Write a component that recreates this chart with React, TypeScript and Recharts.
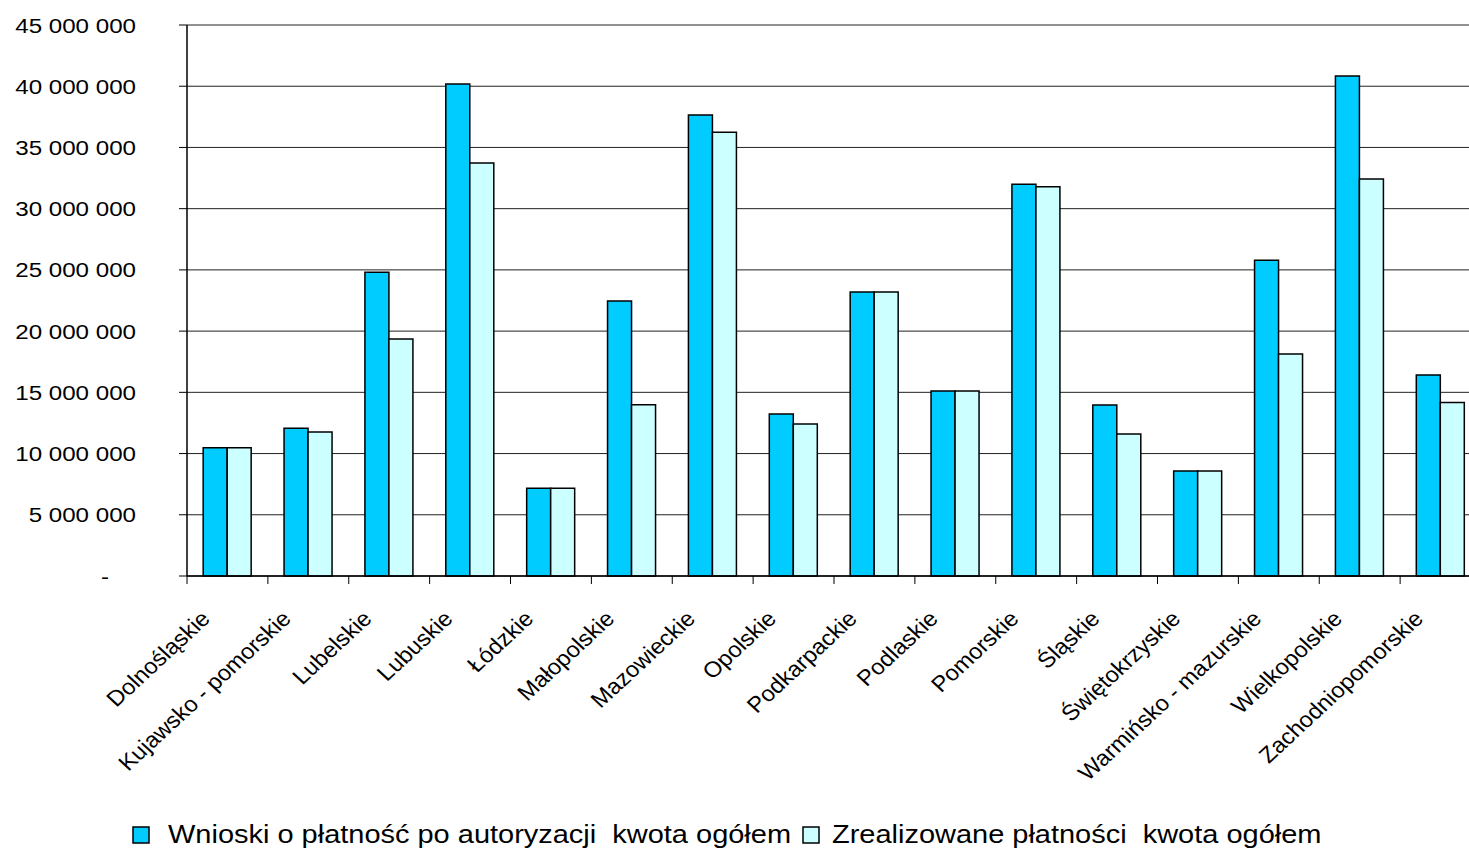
import React from 'react';
import { BarChart, Bar, XAxis, YAxis, CartesianGrid, Legend } from 'recharts';

const regions = [
  'Dolnośląskie',
  'Kujawsko - pomorskie',
  'Lubelskie',
  'Lubuskie',
  'Łódzkie',
  'Małopolskie',
  'Mazowieckie',
  'Opolskie',
  'Podkarpackie',
  'Podlaskie',
  'Pomorskie',
  'Śląskie',
  'Świętokrzyskie',
  'Warmińsko - mazurskie',
  'Wielkopolskie',
  'Zachodniopomorskie',
];

const wnioski = [
  10480000, 12060000, 24800000, 40180000, 7160000, 22460000, 37650000, 13230000,
  23200000, 15110000, 31990000, 13970000, 8580000, 25780000, 40840000, 16420000,
];

const zrealizowane = [
  10480000, 11760000, 19360000, 33730000, 7160000, 13990000, 36240000, 12410000,
  23200000, 15110000, 31800000, 11600000, 8580000, 18130000, 32420000, 14160000,
];

const yTicks = [0, 5000000, 10000000, 15000000, 20000000, 25000000, 30000000, 35000000, 40000000, 45000000];

const seriesNames = [
  'Wnioski o płatność po autoryzacji  kwota ogółem',
  'Zrealizowane płatności  kwota ogółem',
];
const seriesColors = ['#00CCFF', '#CCFFFF'];

const data = regions.map((name, i) => ({
  name,
  wnioski: wnioski[i],
  zrealizowane: zrealizowane[i],
}));

const FONT = "'Liberation Sans', Arial, Helvetica, sans-serif";
const S = 1.15;

const fmt = (v: number) => String(v).replace(/\B(?=(\d{3})+(?!\d))/g, ' ');

const YTick = (props: any) => {
  const { x, y, payload } = props;
  const zero = payload.value === 0;
  return (
    <text
      transform={`translate(${x - (zero ? 70 : 43)},${y}) scale(${S},1)`}
      textAnchor="end"
      dy="0.36em"
      fontSize={21}
      fontFamily={FONT}
      fill="#000"
    >
      {zero ? '-' : fmt(payload.value)}
    </text>
  );
};

const XTick = (props: any) => {
  const { x, y, payload } = props;
  const off = payload.offset ?? 40.4;
  const last = payload.index === regions.length - 1;
  return (
    <g>
      <line x1={x - off} x2={x - off} y1={y} y2={y + 8} stroke="#000" strokeWidth={1} />
      {last && <line x1={x + off} x2={x + off} y1={y} y2={y + 8} stroke="#000" strokeWidth={1} />}
      <text
        transform={`translate(${x - 16},${y + 44}) scale(1.08,1) rotate(-45)`}
        textAnchor="end"
        fontSize={22}
        fontFamily={FONT}
        fill="#000"
      >
        {payload.value}
      </text>
    </g>
  );
};

const legendPos = [
  { marker: 133, text: 168 },
  { marker: 803, text: 832 },
];

const LegendContent = (props: any) => {
  const payload = props.payload || [];
  return (
    <svg width={1481} height={50} style={{ display: 'block', overflow: 'visible' }}>
      {payload.map((p: any, i: number) => (
        <g key={i}>
          <rect
            x={legendPos[i].marker}
            y={26}
            width={16}
            height={16}
            fill={p.color}
            stroke="#000"
            strokeWidth={1.5}
          />
          <text
            transform={`translate(${legendPos[i].text},42) scale(${S},1)`}
            fontSize={25.2}
            fontFamily={FONT}
            fill="#000"
            style={{ whiteSpace: 'pre' }}
            xmlSpace="preserve"
          >
            {p.value}
          </text>
        </g>
      ))}
    </svg>
  );
};

export default function App() {
  return (
    <div
      style={{
        position: 'absolute',
        left: 0,
        top: 0,
        width: 1469,
        height: 851,
        overflow: 'hidden',
        background: '#fff',
      }}
    >
      <BarChart
        width={1481}
        height={851}
        data={data}
        margin={{ top: 25, right: 0, bottom: 0, left: 0 }}
        barCategoryGap="20%"
        barGap={0}
      >
        <CartesianGrid horizontal vertical={false} stroke="#222" strokeWidth={1} />
        <XAxis
          dataKey="name"
          interval={0}
          height={225}
          tickLine={false}
          tickSize={0}
          tickMargin={0}
          axisLine={{ stroke: '#000', strokeWidth: 1.5 }}
          tick={<XTick />}
        />
        <YAxis
          width={187}
          domain={[0, 45000000]}
          ticks={yTicks}
          interval={0}
          tickSize={8}
          tickMargin={0}
          tickLine={{ stroke: '#000' }}
          axisLine={{ stroke: '#000', strokeWidth: 1.5 }}
          tick={<YTick />}
        />
        <Legend
          verticalAlign="bottom"
          align="left"
          wrapperStyle={{ height: 50 }}
          content={<LegendContent />}
        />
        <Bar
          dataKey="wnioski"
          name={seriesNames[0]}
          fill={seriesColors[0]}
          stroke="#000"
          strokeWidth={1.5}
          isAnimationActive={false}
        />
        <Bar
          dataKey="zrealizowane"
          name={seriesNames[1]}
          fill={seriesColors[1]}
          stroke="#000"
          strokeWidth={1.5}
          isAnimationActive={false}
        />
      </BarChart>
    </div>
  );
}
